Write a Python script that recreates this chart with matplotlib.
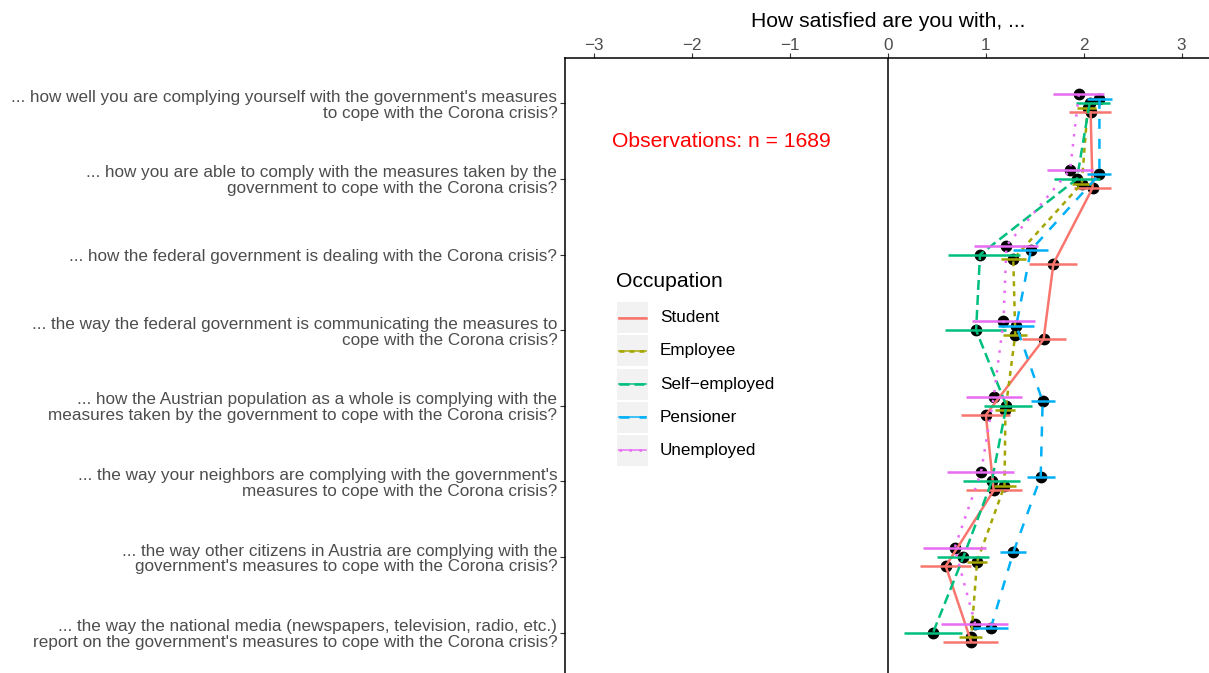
import matplotlib
matplotlib.use("Agg")
import matplotlib.pyplot as plt
from matplotlib.patches import Rectangle
from matplotlib.lines import Line2D
import numpy as np

plt.rcParams['font.family'] = ['Liberation Sans', 'DejaVu Sans']

questions = [
    "... how well you are complying yourself with the government's measures\nto cope with the Corona crisis?",
    "... how you are able to comply with the measures taken by the\ngovernment to cope with the Corona crisis?",
    "... how the federal government is dealing with the Corona crisis?",
    "... the way the federal government is communicating the measures to\ncope with the Corona crisis?",
    "... how the Austrian population as a whole is complying with the\nmeasures taken by the government to cope with the Corona crisis?",
    "... the way your neighbors are complying with the government's\nmeasures to cope with the Corona crisis?",
    "... the way other citizens in Austria are complying with the\ngovernment's measures to cope with the Corona crisis?",
    "... the way the national media (newspapers, television, radio, etc.)\nreport on the government's measures to cope with the Corona crisis?",
]

groups = ["Student", "Employee", "Self\u2212employed", "Pensioner", "Unemployed"]

student_mean = [2.07, 2.09, 1.69, 1.59, 1.00, 1.08, 0.59, 0.85]
student_low = [1.85, 1.90, 1.44, 1.37, 0.75, 0.80, 0.33, 0.56]
student_high = [2.28, 2.28, 1.93, 1.82, 1.25, 1.37, 0.85, 1.12]

employee_mean = [2.04, 1.98, 1.28, 1.30, 1.20, 1.19, 0.91, 0.85]
employee_low = [1.93, 1.88, 1.15, 1.17, 1.09, 1.08, 0.81, 0.73]
employee_high = [2.12, 2.08, 1.41, 1.42, 1.30, 1.31, 1.01, 0.96]

selfemp_mean = [2.06, 1.93, 0.94, 0.90, 1.21, 1.06, 0.77, 0.46]
selfemp_low = [1.92, 1.70, 0.61, 0.58, 0.98, 0.77, 0.50, 0.16]
selfemp_high = [2.27, 2.17, 1.35, 1.21, 1.47, 1.35, 1.03, 0.76]

pensioner_mean = [2.16, 2.16, 1.46, 1.31, 1.58, 1.56, 1.28, 1.05]
pensioner_low = [2.03, 2.03, 1.28, 1.12, 1.46, 1.42, 1.14, 0.87]
pensioner_high = [2.29, 2.28, 1.63, 1.49, 1.71, 1.71, 1.41, 1.23]

unemployed_mean = [1.95, 1.86, 1.21, 1.18, 1.08, 0.95, 0.68, 0.89]
unemployed_low = [1.69, 1.62, 0.88, 0.86, 0.80, 0.60, 0.36, 0.54]
unemployed_high = [2.21, 2.09, 1.53, 1.50, 1.37, 1.29, 1.00, 1.23]

x_ticks = [-3, -2, -1, 0, 1, 2, 3]
n_obs = 1689

means = [student_mean, employee_mean, selfemp_mean, pensioner_mean, unemployed_mean]
lows = [student_low, employee_low, selfemp_low, pensioner_low, unemployed_low]
highs = [student_high, employee_high, selfemp_high, pensioner_high, unemployed_high]

colors = ["#F8766D", "#A3A500", "#00BF7D", "#00B0F6", "#E76BF3"]
dash_styles = [None, (2, 2), (4, 2), (4, 4), (1, 3)]
dodge = [0.12, 0.06, 0.0, -0.06, -0.12]

SMALL = 12.3
LARGE = 15.2

W, H = 1209, 673
fig = plt.figure(figsize=(W / 100, H / 100), dpi=100)
ax = fig.add_axes([565 / W, -5 / H, 646 / W, 620 / H])

ypos = np.arange(1, len(questions) + 1)
LW = 1.8

for m, lo, hi, col, ds, off in zip(means, lows, highs, colors, dash_styles, dodge):
    yy = ypos + off
    ax.scatter(m, yy, s=72, color="black", zorder=2, linewidths=0)
    ax.hlines(yy, lo, hi, color=col, lw=LW, zorder=3)
    line, = ax.plot(m, yy, color=col, lw=LW, zorder=3)
    if ds is not None:
        line.set_dashes(ds)

ax.axvline(0, color="black", lw=1.1, zorder=1)

ax.text(-1.7, 1.5, f"Observations: n = {n_obs}", color="red", fontsize=LARGE,
        ha="center", va="center")

ax.set_xlim(-3.3, 3.3)
ax.set_ylim(8.6, 0.4)
ax.xaxis.tick_top()
ax.xaxis.set_label_position("top")
ax.set_xticks(x_ticks)
ax.set_xticklabels([f"{t}".replace("-", "\u2212") for t in x_ticks])
ax.set_xlabel("How satisfied are you with, ...", fontsize=LARGE, labelpad=7.5)
ax.set_yticks(ypos)
ax.set_yticklabels(questions, fontsize=SMALL, color="#4D4D4D", linespacing=1.08)
ax.tick_params(axis="x", labelsize=SMALL, labelcolor="#4D4D4D", color="#333333",
               length=3.5, width=0.8, pad=0.2)
ax.tick_params(axis="y", color="#333333", length=3.5, width=0.8, pad=2)
for lab in ax.get_yticklabels():
    lab.set_horizontalalignment("right")

for s in ["right", "bottom"]:
    ax.spines[s].set_visible(False)
for s in ["left", "top"]:
    ax.spines[s].set_linewidth(1.1)
    ax.spines[s].set_color("black")


def fx(px):
    return px / W


def fy(py):
    return 1 - py / H


# legend
fig.text(fx(616), fy(281), "Occupation", fontsize=LARGE, ha="left", va="center")
row_y = [317.5, 350.5, 384, 417, 450]
for name, col, ds, ry in zip(groups, colors, dash_styles, row_y):
    fig.patches.append(Rectangle((fx(617), fy(ry + 15.5)), 31 / W, 31 / H,
                                 transform=fig.transFigure, facecolor="#F2F2F2",
                                 edgecolor="none"))
    fig.lines.append(Line2D([fx(619), fx(646)], [fy(ry), fy(ry)],
                            transform=fig.transFigure, color=col, lw=1.3,
                            alpha=0.8))
    ln = Line2D([fx(619), fx(646)], [fy(ry), fy(ry)],
                transform=fig.transFigure, color=col, lw=LW)
    if ds is not None:
        ln.set_dashes(ds)
    fig.lines.append(ln)
    fig.text(fx(660), fy(ry), name, fontsize=SMALL, ha="left", va="center")

fig.savefig("out.png", dpi=100)
